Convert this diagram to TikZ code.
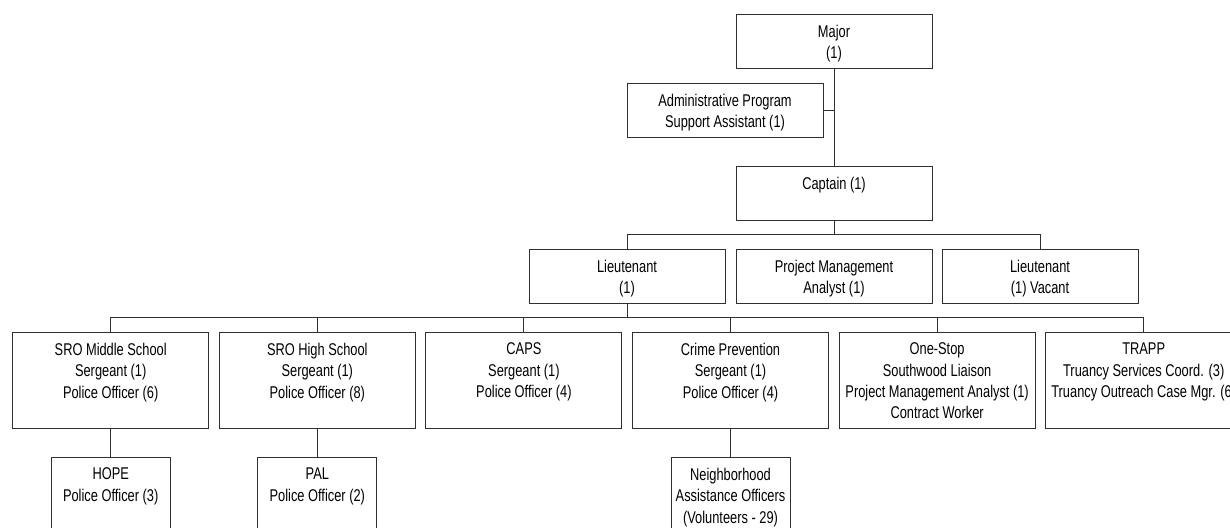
\documentclass[tikz,border=0pt]{standalone}
\usepackage{fontspec}
\setmainfont{Liberation Sans}[FakeStretch=0.755]
\definecolor{boxline}{HTML}{303030}

% name, extra style, centre x, top y, text
\newcommand\orgbox[5]{%
  \node[box,#2] (#1) at (#3,#4) {};
  \node[boxtext] (#1t) at (#3,#4+10.9) {#5};
}

\begin{document}
\begin{tikzpicture}[x=1pt,y=-1pt,
  box/.style={draw=boxline, line width=1pt, fill=white, anchor=north,
    minimum width=196pt, minimum height=54pt, inner sep=0pt},
  tallbox/.style={minimum height=96pt},
  leafbox/.style={minimum width=119pt, minimum height=100pt},
  boxtext/.style={anchor=north, align=center, inner sep=0pt,
    font=\fontsize{17}{21.3}\selectfont, text=black},
  wire/.style={draw=boxline, line width=1pt}]

\clip (0,0) rectangle (1230,527);
\fill[white] (0,0) rectangle (1230,527);

% command staff
\orgbox{major}{}{834}{14}{Major\\(1)}
\orgbox{admin}{}{725}{83}{Administrative Program\\Support Assistant (1)}
\orgbox{captain}{}{834}{166}{Captain (1)}

% second level
\orgbox{ltone}{}{627}{249}{Lieutenant\\(1)}
\orgbox{pma}{}{834}{249}{Project Management\\Analyst (1)}
\orgbox{lttwo}{}{1040}{249}{Lieutenant\\(1) Vacant}

% units
\orgbox{sroms}{tallbox}{110.7}{332}{SRO Middle School\\Sergeant (1)\\Police Officer (6)}
\orgbox{srohs}{tallbox}{317.3}{332}{SRO High School\\Sergeant (1)\\Police Officer (8)}
\orgbox{caps}{tallbox}{523.9}{332}{CAPS\\Sergeant (1)\\Police Officer (4)}
\orgbox{crime}{tallbox}{730.5}{332}{Crime Prevention\\Sergeant (1)\\Police Officer (4)}
\orgbox{onestop}{tallbox}{937.1}{332}{One-Stop\\Southwood Liaison\\Project Management Analyst (1)\\Contract Worker}
\orgbox{trapp}{tallbox}{1143.7}{332}{TRAPP\\Truancy Services Coord. (3)\\Truancy Outreach Case Mgr. (6)}

% sub-units
\orgbox{hope}{leafbox}{110.7}{457}{HOPE\\Police Officer (3)}
\orgbox{pal}{leafbox}{317.3}{457}{PAL\\Police Officer (2)}
\orgbox{nao}{leafbox}{730.5}{457}{Neighborhood\\Assistance Officers\\(Volunteers - 29)}

% connectors
\coordinate (busone) at (834,234.5);
\coordinate (bustwo) at (627,317);
\draw[wire] (major.south) -- (captain.north);
\draw[wire] (admin.east) -- (admin.east -| major.south);
\draw[wire] (captain.south) -- (busone);
\draw[wire] (ltone.north) -- (ltone.north |- busone) -- (lttwo.north |- busone) -- (lttwo.north);
\draw[wire] (ltone.south) -- (bustwo);
\draw[wire] (sroms.north) -- (sroms.north |- bustwo) -- (trapp.north |- bustwo) -- (trapp.north);
\foreach \n in {srohs,caps,crime,onestop}
  \draw[wire] (\n.north) -- (\n.north |- bustwo);
\draw[wire] (sroms.south) -- (hope.north);
\draw[wire] (srohs.south) -- (pal.north);
\draw[wire] (crime.south) -- (nao.north);
\end{tikzpicture}
\end{document}
